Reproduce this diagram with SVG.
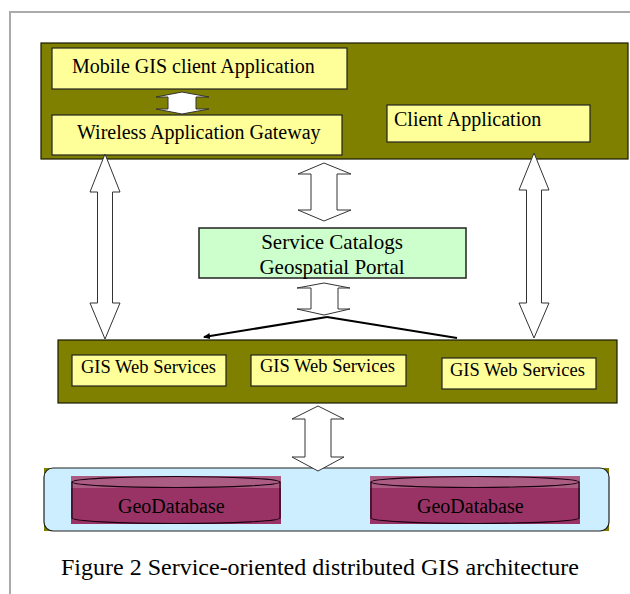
<svg xmlns="http://www.w3.org/2000/svg" width="630" height="594" viewBox="0 0 630 594">
<style>
  text { font-family: "Liberation Serif", "Times New Roman", serif; fill: #000; }
  .olive { fill: #808000; stroke: #1a1a00; stroke-width: 1.2; }
  .yel { fill: #ffff99; stroke: #222; stroke-width: 1.2; }
  .green { fill: #ccffcc; stroke: #222; stroke-width: 1.5; }
  .blk { fill: #fff; stroke: #333; stroke-width: 1; }
  .t20 { font-size: 20px; }
  .t18 { font-size: 18.5px; }
  .t21 { font-size: 21px; }
  .cyl { fill: none; stroke: #1a0010; stroke-width: 1.2; }
</style>
<defs>
  <marker id="ah" markerWidth="8" markerHeight="6" refX="6" refY="3" orient="auto" markerUnits="userSpaceOnUse">
    <path d="M0,0 L7,3 L0,6 Z" fill="#000"/>
  </marker>
</defs>
<rect x="0" y="0" width="630" height="594" fill="#fff"/>
<g id="frame">
  <path d="M10,594 V12 H630" fill="none" stroke="#aaaaaa" stroke-width="2"/>
</g>

<g id="client-tier">
  <rect class="olive" x="41" y="43" width="587" height="116"/>
</g>
<g id="mobile-gis">
  <rect class="yel" x="52" y="48" width="295" height="41"/>
  <text class="t20" x="72" y="73">Mobile GIS client Application</text>
</g>
<g id="wireless-gateway">
  <rect class="yel" x="52" y="115" width="290" height="40"/>
  <text class="t20" x="77" y="139">Wireless Application Gateway</text>
</g>
<g id="client-app">
  <rect class="yel" x="387" y="105" width="203" height="37"/>
  <text class="t20" x="394" y="126">Client Application</text>
</g>

<g id="service-catalogs">
  <rect class="green" x="199" y="228" width="267" height="50"/>
  <text class="t21" x="332" y="249" text-anchor="middle">Service Catalogs</text>
  <text class="t21" x="332" y="274" text-anchor="middle">Geospatial Portal</text>
</g>

<g id="services-tier">
  <rect class="olive" x="58" y="340" width="559" height="63"/>
</g>
<g id="gws1">
  <rect class="yel" x="72" y="355" width="154" height="31"/>
  <text class="t18" x="81" y="373">GIS Web Services</text>
</g>
<g id="gws2">
  <rect class="yel" x="251" y="355" width="155" height="31"/>
  <text class="t18" x="260" y="372">GIS Web Services</text>
</g>
<g id="gws3">
  <rect class="yel" x="442" y="358" width="154" height="31"/>
  <text class="t18" x="450" y="376">GIS Web Services</text>
</g>

<g id="data-tier">
  <rect x="44" y="468" width="565" height="63" fill="#808000"/>
  <rect x="44" y="468" width="565" height="63" rx="9" ry="9" fill="#cceeff" stroke="#222" stroke-width="1.2"/>
</g>
<g id="geodb1">
  <rect x="71" y="476" width="210" height="48" fill="#993366"/>
  <rect x="71" y="476" width="210" height="12" fill="#aa5c82"/>
  <ellipse class="cyl" cx="176" cy="482" rx="104" ry="5.5"/>
  <path class="cyl" d="M72,482 V518 A104,5.5 0 0 0 280,518 V482"/>
  <text class="t20" x="118" y="513">GeoDatabase</text>
</g>
<g id="geodb2">
  <rect x="370" y="476" width="210" height="48" fill="#993366"/>
  <rect x="370" y="476" width="210" height="12" fill="#aa5c82"/>
  <ellipse class="cyl" cx="475" cy="482" rx="104" ry="5.5"/>
  <path class="cyl" d="M371,482 V518 A104,5.5 0 0 0 579,518 V482"/>
  <text class="t20" x="417" y="513">GeoDatabase</text>
</g>

<g id="connectors">
  <polygon class="blk" points="182,92 209,97 196,97 196,109 209,109 182,114 156,109 168,109 168,97 156,97"/>
  <polygon class="blk" points="105,154 120,192 112.5,192 112.5,303 120,303 105,339 90,303 97.5,303 97.5,192 90,192"/>
  <polygon class="blk" points="534,153 549,190 541.5,190 541.5,303 549,303 534,338 519,303 526.5,303 526.5,190 519,190"/>
  <polygon class="blk" points="324,163 351,174 337,174 337,210 351,210 324,221 298,210 311,210 311,174 298,174"/>
  <polygon class="blk" points="324,283 350,288 338,288 338,309 350,309 324,315 297,309 311,309 311,288 297,288"/>
  <polygon class="blk" points="318,406 344,419 331,419 331,457 344,457 318,471 292,457 305,457 305,419 292,419"/>
  <line x1="327" y1="317" x2="204" y2="337" stroke="#000" stroke-width="2" marker-end="url(#ah)"/>
  <line x1="327" y1="317" x2="457" y2="338" stroke="#000" stroke-width="2"/>
</g>

<g id="caption">
  <text x="61" y="575" font-size="24">Figure 2 Service-oriented distributed GIS architecture</text>
</g>
</svg>
